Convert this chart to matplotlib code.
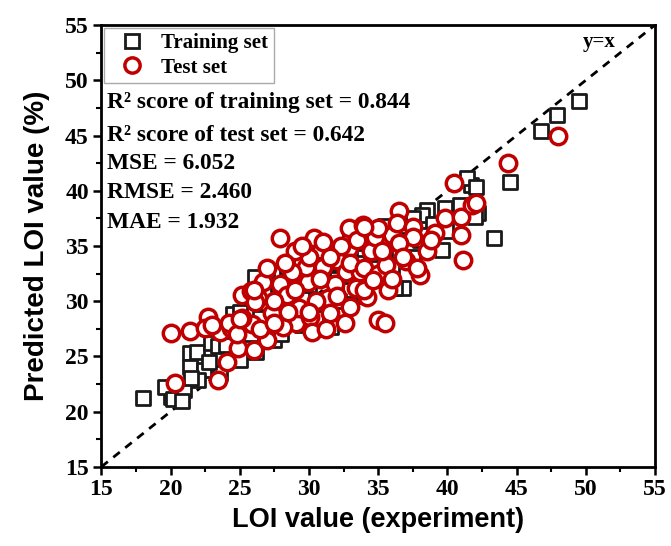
import matplotlib.pyplot as plt
from matplotlib.lines import Line2D
from matplotlib.ticker import MultipleLocator

# training set (experiment, predicted)
train_x = [49.5, 47.9, 46.8, 44.5, 43.4, 42.2, 41.7, 41.4, 42.1, 39.6, 38.5, 39.8,
           40.9, 39.9, 38.2, 42.0, 36.8, 36.2,
           18.0, 20.0, 19.6, 20.2, 21.4, 21.9, 21.4, 22.4, 22.0, 22.9, 23.4, 24.5,
           25.0, 23.6, 21.0, 21.5, 22.8, 20.8,
           26.1, 28.4, 31.6, 26.2, 25.5, 26.5, 27.0, 28.0, 28.5, 29.5, 30.0, 31.0,
           32.0, 33.0, 34.0, 35.0, 33.5, 36.0, 37.0, 37.5, 34.5, 35.5, 33.0, 30.5,
           29.0, 27.5, 25.8, 24.0, 26.8, 29.5, 31.5, 32.5, 34.8, 36.0, 37.5, 38.0,
           39.0, 33.0, 30.8, 27.8, 25.0, 26.0, 31.0, 28.0, 29.5, 32.2, 34.0, 36.5,
           38.5, 35.5, 27.0, 28.8]
train_y = [48.1, 46.9, 45.4, 40.8, 35.7, 38.0, 40.5, 41.2, 40.3, 34.6, 38.3, 38.4,
           38.7, 36.4, 37.8, 37.6, 31.2, 31.2,
           21.2, 21.3, 22.2, 21.1, 25.3, 25.4, 24.0, 23.8, 22.9, 26.2, 25.9, 28.8,
           24.7, 23.5, 22.0, 23.0, 24.5, 21.0,
           32.2, 33.1, 27.7, 25.4, 26.0, 28.5, 27.0, 29.5, 28.0, 30.5, 31.5, 30.0,
           32.0, 32.0, 34.0, 35.0, 33.5, 36.5, 36.0, 37.5, 33.0, 34.0, 31.0, 28.5,
           29.0, 26.5, 27.0, 26.0, 29.8, 32.5, 33.5, 34.5, 32.0, 33.0, 34.0, 35.5,
           37.0, 36.0, 34.5, 31.5, 29.0, 30.2, 32.5, 27.0, 27.8, 30.0, 30.5, 35.5,
           36.0, 36.8, 32.7, 31.8]

# test set (experiment, predicted)
test_x = [20.0, 20.3, 21.4, 22.7, 23.4, 24.1, 24.9, 23.6, 24.4, 24.2, 25.9, 22.5,
          23.0, 24.8, 25.2, 25.2, 25.0, 25.8, 26.3,
          26.1, 26.7, 27.3, 27.9, 28.4, 29.1, 29.9, 30.1, 30.2, 31.4, 31.0, 32.0,
          32.7, 33.4, 32.6, 31.5, 26.0, 27.0, 28.1, 32.9, 33.7, 34.2, 29.3, 31.9,
          29.8, 28.8, 27.9, 30.4, 31.0, 32.9, 33.9, 26.5, 27.5, 28.5, 29.0, 30.5,
          30.8, 32.0, 33.0, 34.0, 34.5, 33.5, 30.0, 29.0, 28.3, 27.0, 26.0, 27.5,
          30.0, 31.2, 33.0, 34.0, 35.0, 35.5, 36.0, 34.8, 32.3, 31.5, 29.5,
          35.0, 35.5, 38.0, 37.0, 35.6, 34.6, 35.7, 41.1, 36.5, 39.8, 41.0, 39.1,
          41.0, 41.8, 35.0, 36.4, 37.5, 37.5, 36.5, 34.0, 35.3, 40.5, 42.1, 44.4,
          48.0, 36.8, 38.5, 37.8, 36.0, 38.8]
test_y = [27.1, 22.6, 27.3, 28.6, 22.9, 24.5, 25.8, 27.2, 27.6, 28.0, 27.9, 27.6,
          27.8, 27.0, 28.5, 30.6, 28.4, 30.9, 30.3,
          29.9, 31.7, 28.9, 31.6, 30.6, 28.0, 31.7, 28.6, 27.2, 30.3, 33.1, 33.7,
          32.6, 31.2, 28.0, 28.9, 25.6, 26.5, 27.7, 34.8, 32.6, 30.4, 29.4, 31.6,
          33.1, 32.6, 35.7, 35.7, 35.4, 36.6, 36.9, 27.5, 30.0, 29.0, 31.0, 30.0,
          32.0, 30.5, 33.5, 33.0, 34.5, 35.5, 34.0, 34.5, 33.5, 33.0, 31.0, 28.0,
          29.0, 27.5, 29.5, 31.0, 32.5, 35.0, 36.0, 35.8, 35.0, 34.0, 35.0,
          28.3, 28.0, 32.4, 33.6, 33.3, 31.9, 31.0, 33.7, 38.2, 37.5, 37.6, 36.2,
          36.0, 38.7, 36.6, 37.1, 36.7, 35.8, 35.3, 36.7, 34.5, 40.7, 38.9, 42.5,
          45.0, 34.0, 34.5, 33.0, 32.0, 35.5]

metric_lines = ["R\u00b2 score of training set = 0.844",
                "R\u00b2 score of test set = 0.642",
                "MSE = 6.052",
                "RMSE = 2.460",
                "MAE = 1.932"]

red = "#c00000"
serif = "Liberation Serif"
sans = "Liberation Sans"

fig = plt.figure(figsize=(6.71, 5.46), dpi=100)
ax = fig.add_axes([0.151, 0.145, 0.825, 0.809])

ax.plot([15, 55], [15, 55], color="black", lw=2, ls=(0, (3, 2.5)), zorder=1)
ax.scatter(train_x, train_y, s=95, marker="s", facecolor="white",
           edgecolor="#1a1a1a", linewidth=2, zorder=2)
ax.scatter(test_x, test_y, s=140, marker="o", facecolor="white",
           edgecolor=red, linewidth=2.5, zorder=3)

ax.set_xlim(15, 55)
ax.set_ylim(15, 55)
ax.xaxis.set_major_locator(MultipleLocator(5))
ax.yaxis.set_major_locator(MultipleLocator(5))
ax.xaxis.set_minor_locator(MultipleLocator(2.5))
ax.yaxis.set_minor_locator(MultipleLocator(2.5))
ax.tick_params(which="major", direction="out", length=6, width=1.8,
               labelsize=17, pad=3)
ax.tick_params(which="minor", direction="out", length=3.5, width=1.5)
for lab in ax.get_xticklabels() + ax.get_yticklabels():
    lab.set_fontfamily(serif)
    lab.set_fontweight("bold")
for sp in ax.spines.values():
    sp.set_linewidth(2)

ax.set_xlabel("LOI value (experiment)", fontfamily=sans, fontweight="bold",
              fontsize=19.5, labelpad=5)
ax.set_ylabel("Predicted LOI value (%)", fontfamily=sans, fontweight="bold",
              fontsize=20, labelpad=11)

handles = [Line2D([], [], ls="none", marker="s", ms=9.5, mfc="white",
                  mec="#1a1a1a", mew=2),
           Line2D([], [], ls="none", marker="o", ms=11, mfc="white",
                  mec=red, mew=2.5)]
leg = ax.legend(handles, ["Training set", "Test set"], loc="upper left",
                bbox_to_anchor=(0.005, 0.993), borderaxespad=0.0,
                fancybox=False, framealpha=1, edgecolor="#aaaaaa",
                borderpad=0.25, handletextpad=0.3, handlelength=2.2,
                labelspacing=0.2,
                prop={"family": serif, "weight": "bold", "size": 15})
leg.get_frame().set_linewidth(1)

ys = [0.824, 0.751, 0.686, 0.620, 0.554]
for txt, yy in zip(metric_lines, ys):
    ax.text(0.011, yy, txt, transform=ax.transAxes, fontfamily=serif,
            fontweight="bold", fontsize=16.8, va="center", ha="left")

ax.text(0.90, 0.962, "y=x", transform=ax.transAxes, fontfamily=serif,
        fontweight="bold", fontsize=15, va="center", ha="center")

fig.savefig("out.png", dpi=100)
